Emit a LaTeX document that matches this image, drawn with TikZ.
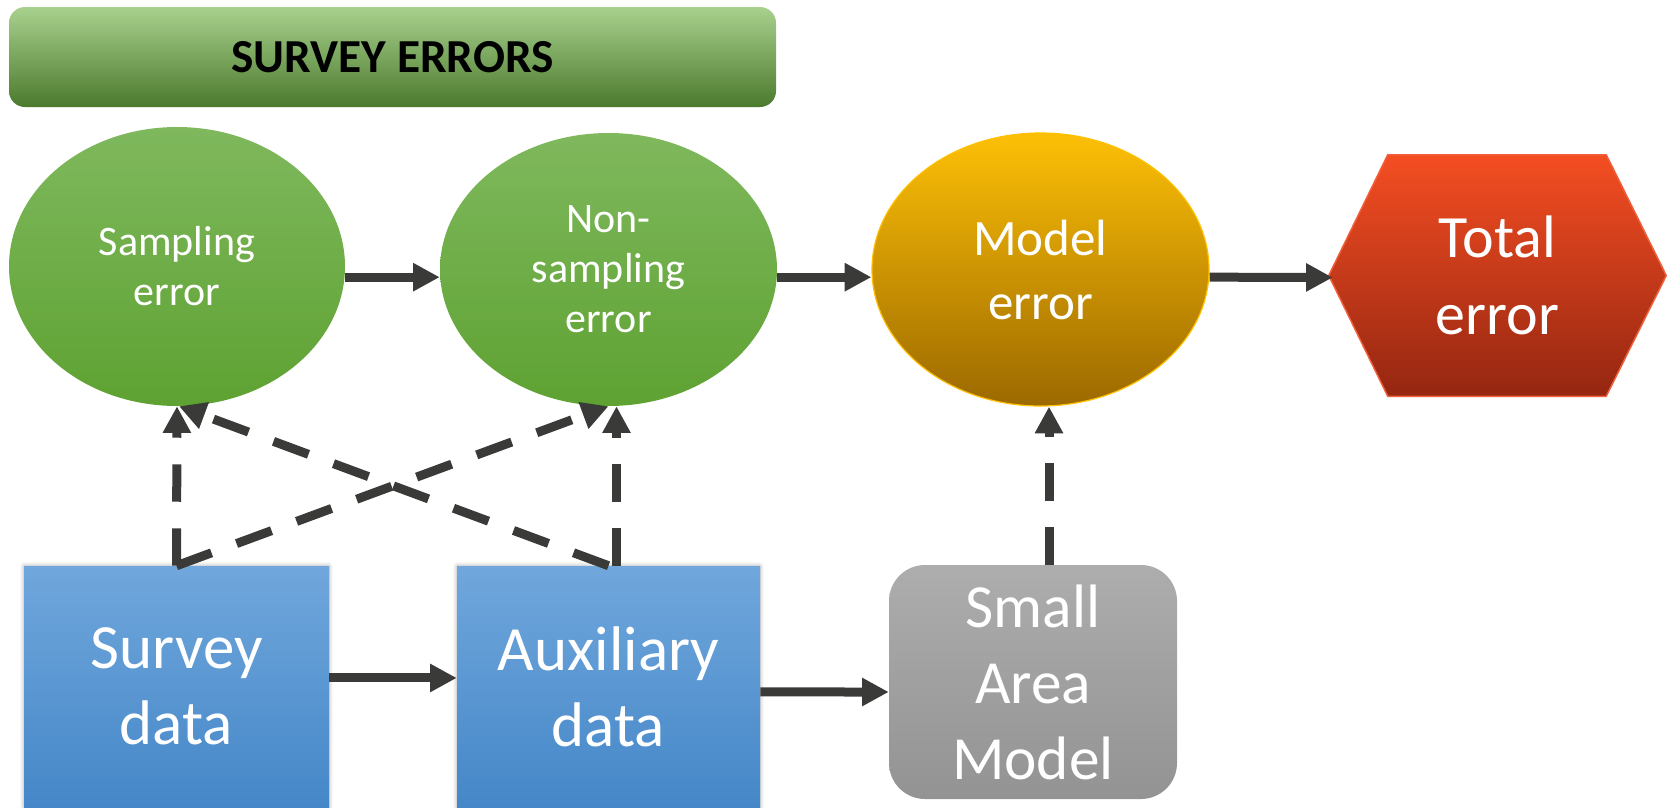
\documentclass[tikz,border=0pt]{standalone}
\usepackage{fontspec}
\setmainfont{Carlito}
\usetikzlibrary{shapes.geometric,arrows.meta,calc,shadows.blur}
\definecolor{ttop}{HTML}{A9D18E}
\definecolor{tmid}{HTML}{70AD47}
\definecolor{tbot}{HTML}{4B7A2D}
\definecolor{gtop}{HTML}{7FB85D}
\definecolor{gbot}{HTML}{5EA232}
\definecolor{mtop}{HTML}{FDC006}
\definecolor{mbot}{HTML}{9C6900}
\definecolor{medge}{HTML}{FFC000}
\definecolor{htop}{HTML}{F44E22}
\definecolor{hbot}{HTML}{952611}
\definecolor{hedge}{HTML}{F0603C}
\definecolor{btop}{HTML}{70A7DC}
\definecolor{bbot}{HTML}{4587C8}
\definecolor{stop}{HTML}{ADADAD}
\definecolor{sbot}{HTML}{939393}
\definecolor{arr}{HTML}{3A3A38}
\begin{document}
\begin{tikzpicture}[x=0.75pt,y=-0.75pt,
  titlebox/.style={rectangle, rounded corners=12pt, top color=ttop, middle color=tmid, bottom color=tbot,
    minimum width=575.25pt, minimum height=75pt, inner sep=0pt,
    font=\fontsize{35.5pt}{40pt}\selectfont\bfseries, text=black},
  greenell/.style={ellipse, inner sep=0pt, top color=gtop, bottom color=gbot, text=white, align=center,
    font=\fontsize{31.5pt}{37.5pt}\selectfont},
  modelell/.style={ellipse, inner sep=0pt, top color=mtop, bottom color=mbot, draw=medge, line width=0.9pt,
    text=white, align=center, font=\fontsize{38.25pt}{48pt}\selectfont},
  hexlabel/.style={text=white, align=center, font=\fontsize{45pt}{57.75pt}\selectfont},
  databox/.style={rectangle, inner sep=0pt, top color=btop, bottom color=bbot, text=white, align=center,
    minimum height=180.75pt, font=\fontsize{47.25pt}{57pt}\selectfont,
    blur shadow={shadow xshift=0pt, shadow yshift=0pt, shadow blur radius=3pt, shadow opacity=35}},
  modelbox/.style={rectangle, rounded corners=27pt, inner sep=0pt, top color=stop, bottom color=sbot,
    text=white, align=center, minimum width=216pt, minimum height=175.5pt,
    font=\fontsize{46pt}{57pt}\selectfont},
  solidarrow/.style={draw=arr, line width=6.75pt, -{Triangle[length=20pt,width=20pt]}},
  dasharrow/.style={draw=arr, line width=6.75pt, dash pattern=on 28pt off 20pt,
    -{Triangle[length=20pt,width=20pt]}}
]
\useasboundingbox (0,0) rectangle (1673,807);

% title
\node[titlebox] (title) at (392.5,57) {SURVEY ERRORS};

% ellipses
\node[greenell, minimum width=252pt, minimum height=209.25pt] (samp) at (177,266.5) {Sampling\\error};
\node[greenell, minimum width=252.75pt, minimum height=204.75pt] (nons) at (608.5,269.5) {Non-\\sampling\\error};
\node[modelell, minimum width=252.75pt, minimum height=204.75pt] (model) at (1040.5,269.5) {Model\\error};

% hexagon
\path node[minimum width=252.75pt, minimum height=180.75pt, inner sep=0pt] (tot) at (1497.5,275.5) {};
\shade[top color=htop, bottom color=hbot, draw=hedge, line width=1.1pt]
  (tot.west) -- ([xshift=44.25pt]tot.north west) -- ([xshift=-45pt]tot.north east)
  -- (tot.east) -- ([xshift=-45pt]tot.south east) -- ([xshift=44.25pt]tot.south west) -- cycle;
\node[hexlabel] (totlabel) at (tot.center) {Total\\error};

% bottom boxes
\node[databox, minimum width=228.75pt] (surv) at (176.5,686.5) {Survey\\data};
\node[databox, minimum width=227.25pt] (aux) at (608.5,686.5) {Auxiliary\\data};
\node[modelbox] (sam) at (1033,682) {Small\\Area\\Model};

% solid arrows
\draw[solidarrow] ([yshift=-8pt]samp.east) -- ([yshift=-5.75pt]nons.west);
\draw[solidarrow] ([yshift=-5.75pt]nons.east) -- ([yshift=-5.75pt]model.west);
\draw[solidarrow] ([yshift=-5.75pt]model.east) -- ([xshift=3pt,yshift=-1.5pt]tot.west);
\draw[solidarrow] ([yshift=6.4pt]surv.east) -- ([yshift=6.4pt]aux.west);
\draw[solidarrow] ([yshift=-4.1pt]aux.east) -- ([yshift=-7.5pt]sam.west);

% dashed arrows
\draw[dasharrow] (surv.north) -- (samp.south);
\draw[dasharrow] (surv.north) -- (nons.south);
\draw[dasharrow] (aux.north) -- ([xshift=1.5pt]samp.south);
\draw[dasharrow] ([xshift=6pt]aux.north) -- ([xshift=6pt]nons.south);
\draw[dasharrow] ([xshift=12pt]sam.north) -- ([xshift=12pt]sam.north |- model.south);
\end{tikzpicture}
\end{document}
